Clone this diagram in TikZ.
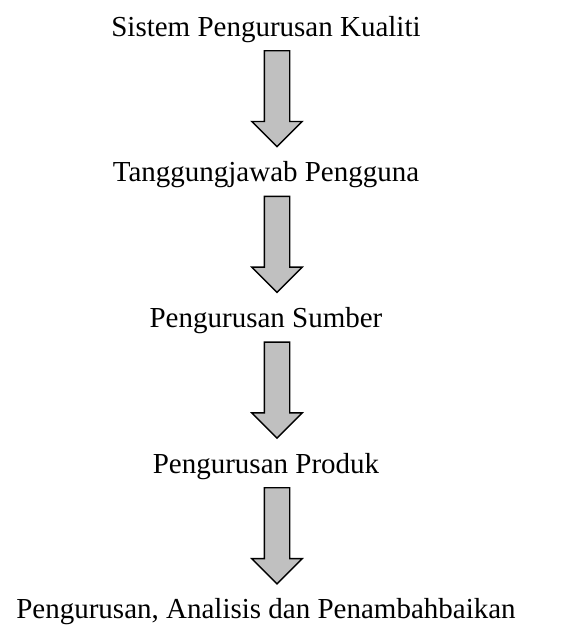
\documentclass[tikz,border=0pt]{standalone}
\usepackage{fontspec}
\setmainfont{Liberation Serif}
\usepackage{tikz}
\usetikzlibrary{positioning,shapes.arrows}
\definecolor{ink}{HTML}{000000}
\definecolor{arrowfill}{HTML}{C0C0C0}
\tikzset{
  steptext/.style={font=\fontsize{29}{34}\selectfont,text=ink,inner sep=0pt,anchor=base},
  downarrow/.style={single arrow,shape border rotate=270,draw=ink,fill=arrowfill,line width=1.4pt,
                    minimum height=96pt,minimum width=49pt,single arrow head extend=12.5pt,
                    single arrow head indent=0pt,inner sep=12pt}
}
\begin{document}
\begin{tikzpicture}[x=1pt,y=1pt,node distance=14pt and 34pt]
  \useasboundingbox (0,0) rectangle (566,-630);
  \node[steptext] (qms) at (266,-36) {Sistem Pengurusan Kualiti};
  \node[downarrow,below=of qms.base,anchor=tail,xshift=11pt] (a1) {};
  \node[steptext,below=34pt of a1.tip,anchor=base,xshift=-11pt] (user) {Tanggungjawab Pengguna};
  \node[downarrow,below=of user.base,anchor=tail,xshift=11pt] (a2) {};
  \node[steptext,below=34pt of a2.tip,anchor=base,xshift=-11pt] (res) {Pengurusan Sumber};
  \node[downarrow,below=of res.base,anchor=tail,xshift=11pt] (a3) {};
  \node[steptext,below=34pt of a3.tip,anchor=base,xshift=-11pt] (prod) {Pengurusan Produk};
  \node[downarrow,below=of prod.base,anchor=tail,xshift=11pt] (a4) {};
  \node[steptext,below=34pt of a4.tip,anchor=base,xshift=-11pt] (imp) {Pengurusan, Analisis dan Penambahbaikan};
\end{tikzpicture}
\end{document}
